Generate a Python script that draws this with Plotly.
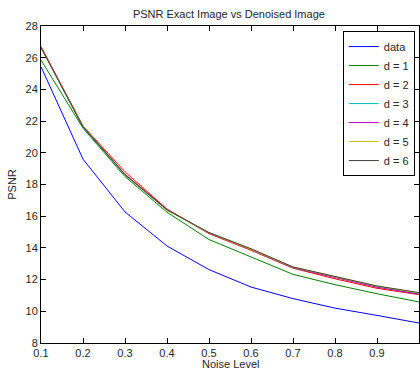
import plotly.graph_objects as go

noise = [0.1, 0.2, 0.3, 0.4, 0.5, 0.6, 0.7, 0.8, 0.9, 1.0]
psnr_data = [25.43, 19.6, 16.27, 14.12, 12.63, 11.53, 10.8, 10.2, 9.74, 9.26]
psnr_d1 = [25.85, 21.55, 18.5, 16.25, 14.53, 13.43, 12.33, 11.68, 11.11, 10.59]
psnr_d2 = [26.7, 21.7, 18.8, 16.45, 14.9, 13.85, 12.72, 12.05, 11.45, 11.05]
psnr_d3 = [26.65, 21.6, 18.6, 16.4, 14.95, 13.9, 12.75, 12.15, 11.55, 11.1]
psnr_d4 = [26.65, 21.65, 18.65, 16.42, 14.93, 13.88, 12.75, 12.12, 11.52, 11.08]
psnr_d5 = [26.6, 21.7, 18.6, 16.38, 14.95, 13.9, 12.78, 12.18, 11.58, 11.15]
psnr_d6 = [26.65, 21.65, 18.62, 16.4, 14.97, 13.95, 12.8, 12.2, 11.6, 11.18]

names = ["data", "d = 1", "d = 2", "d = 3", "d = 4", "d = 5", "d = 6"]
series = [psnr_data, psnr_d1, psnr_d2, psnr_d3, psnr_d4, psnr_d5, psnr_d6]
colors = ["#0000ff", "#008000", "#ff0000", "#00bfbf", "#bf00bf", "#bfbf00", "#404040"]

fig = go.Figure()
for n, s, c in zip(names, series, colors):
    fig.add_trace(go.Scatter(x=noise, y=s, mode="lines", name=n,
                             line=dict(color=c, width=1)))

axis_common = dict(showline=True, linecolor="#000000", linewidth=1, mirror="ticks",
                   ticks="inside", ticklen=5, tickcolor="#000000", showgrid=False,
                   zeroline=False, automargin=False,
                   tickfont=dict(size=11, color="#262626"))

fig.update_layout(
    width=420, height=370,
    margin=dict(l=41, r=1, t=26, b=27, autoexpand=False),
    paper_bgcolor="white", plot_bgcolor="white",
    font=dict(family="Liberation Sans, Arial, sans-serif", size=11, color="#262626"),
    title=dict(text="PSNR Exact Image vs Denoised Image", x=0.545, xanchor="center",
               y=0.962, yanchor="middle", font=dict(size=11, color="#262626")),
    xaxis=dict(range=[0.1, 1.0], tickvals=[0.1, 0.2, 0.3, 0.4, 0.5, 0.6, 0.7, 0.8, 0.9, 1.0],
               ticktext=["0.1", "0.2", "0.3", "0.4", "0.5", "0.6", "0.7", "0.8", "0.9", "1"],
               **axis_common),
    yaxis=dict(range=[8, 28], tickvals=list(range(8, 29, 2)),
               title=dict(text="PSNR", standoff=6, font=dict(size=11)), **axis_common),
    legend=dict(x=0.989, xanchor="right", y=0.984, yanchor="top",
                bgcolor="white", bordercolor="#000000", borderwidth=1,
                font=dict(size=11, color="#262626"), tracegroupgap=0,
                itemwidth=30),
    annotations=[dict(text="Noise Level", xref="paper", yref="paper", x=0.5, y=0,
                      xanchor="center", yanchor="top", yshift=-13, showarrow=False,
                      font=dict(size=11, color="#262626"))],
    showlegend=True,
)

fig.write_html("out.html", config={"responsive": False, "displayModeBar": False},
               post_script="document.body.style.margin='0';document.body.style.overflow='hidden';")
